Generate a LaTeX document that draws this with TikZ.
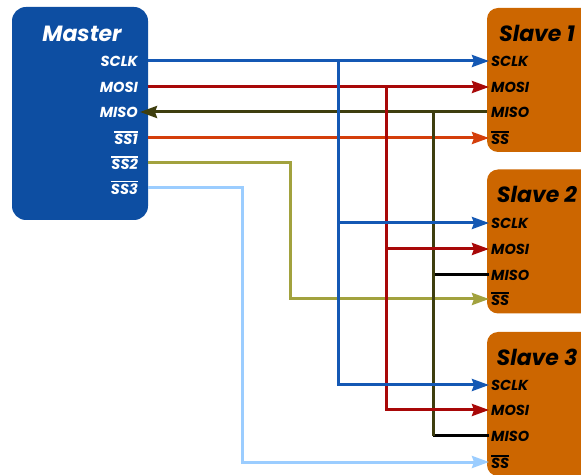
\documentclass[tikz,border=0pt]{standalone}
\usepackage{fontspec}
\setmainfont{Poppins}
\usetikzlibrary{arrows.meta}
\newcommand{\negbar}[1]{\leavevmode\vbox{\hrule height 1.3pt\kern1.6pt\hbox{#1}}}
\begin{document}
\begin{tikzpicture}[x=1pt,y=1pt,
  every node/.style={font=\bfseries\itshape},
  masterbox/.style={fill=masterColor,rounded corners=14pt,minimum width=136pt,minimum height=213pt,inner sep=0pt},
  slavebox/.style={fill=slaveColor,rounded corners=11pt,minimum width=110pt,minimum height=144pt,inner sep=0pt},
  title/.style={font=\fontsize{22}{26}\selectfont\bfseries\itshape},
  mpin/.style={text=white,anchor=east,inner sep=2pt,font=\fontsize{14.5}{17}\selectfont\bfseries\itshape},
  spin/.style={text=black,anchor=west,inner sep=2pt,font=\fontsize{14.5}{17}\selectfont\bfseries\itshape},
  wire/.style={line width=3pt},
  tip/.style={-{Stealth[length=17pt,width=12pt,inset=2pt]}}]
\definecolor{masterColor}{RGB}{13,78,162}
\definecolor{slaveColor}{RGB}{204,102,0}
\definecolor{sclkColor}{RGB}{20,88,180}
\definecolor{mosiColor}{RGB}{168,8,8}
\definecolor{misoColor}{RGB}{62,62,14}
\definecolor{ssaColor}{RGB}{212,62,10}
\definecolor{ssbColor}{RGB}{162,162,62}
\definecolor{sscColor}{RGB}{155,205,255}
\useasboundingbox (0,0) rectangle (581,474);
\clip (0,0) rectangle (581,474);

% boxes
\node[masterbox] (master) at ( 80.00,360.50) {};
\node[slavebox] (slave1) at (542.00,394.00) {};
\node[slavebox] (slave2) at (542.00,232.50) {};
\node[slavebox] (slave3) at (542.00, 70.00) {};

\node[title,text=white] (mtitle) at ( 82.00,440.00) {Master};
\node[title,text=black] (s1title) at (537.00,441.00) {Slave 1};
\node[title,text=black] (s2title) at (537.00,280.00) {Slave 2};
\node[title,text=black] (s3title) at (537.00,117.00) {Slave 3};

% master pins
\node[mpin] (m-sclk) at (140.00,413.00) {SCLK};
\node[mpin] (m-mosi) at (140.00,387.00) {MOSI};
\node[mpin] (m-miso) at (140.00,362.00) {MISO};
\node[mpin] (m-ssa) at (140.00,336.00) {\negbar{SS1}};
\node[mpin] (m-ssb) at (140.00,311.00) {\negbar{SS2}};
\node[mpin] (m-ssc) at (140.00,286.00) {\negbar{SS3}};

% slave pins
\node[spin] (s1-sclk) at (489.00,413.00) {SCLK};
\node[spin] (s1-mosi) at (489.00,387.00) {MOSI};
\node[spin] (s1-miso) at (489.00,362.00) {MISO};
\node[spin] (s1-ss) at (489.00,336.00) {\negbar{SS}};

\node[spin] (s2-sclk) at (489.00,251.00) {SCLK};
\node[spin] (s2-mosi) at (489.00,225.00) {MOSI};
\node[spin] (s2-miso) at (489.00,199.00) {MISO};
\node[spin] (s2-ss) at (489.00,175.00) {\negbar{SS}};

\node[spin] (s3-sclk) at (489.00, 89.00) {SCLK};
\node[spin] (s3-mosi) at (489.00, 64.00) {MOSI};
\node[spin] (s3-miso) at (489.00, 38.00) {MISO};
\node[spin] (s3-ss) at (489.00, 12.00) {\negbar{SS}};

% bus taps
\coordinate (j-sclk) at (338.00,413.00);
\coordinate (j-mosi) at (386.00,387.00);
\coordinate (j-miso) at (433.00,362.00);
\coordinate (x-ssb) at (290.00,0.00);
\coordinate (x-ssc) at (242.00,0.00);

% select lines
\draw[wire,tip,draw=sscColor] (master.east |- m-ssc) -| (x-ssc |- s3-ss) -- (s3-ss.west);
\draw[wire,tip,draw=ssbColor] (master.east |- m-ssb) -| (x-ssb |- s2-ss) -- (s2-ss.west);
\draw[wire,tip,draw=ssaColor] (master.east |- m-ssa) -- (s1-ss.west);

% MISO
\draw[wire,draw=black] (j-miso |- s2-miso) -- (s2-miso.west);
\draw[wire,draw=black] (j-miso |- s3-miso) -- (s3-miso.west);
\draw[wire,draw=misoColor] (j-miso) -- (j-miso |- s3-miso);
\draw[wire,tip,draw=misoColor] (slave1.west |- s1-miso) -- (m-miso.east);

% MOSI
\draw[wire,tip,draw=mosiColor] (j-mosi) |- (s2-mosi.west);
\draw[wire,tip,draw=mosiColor] (j-mosi) |- (s3-mosi.west);
\draw[wire,tip,draw=mosiColor] (master.east |- m-mosi) -- (s1-mosi.west);

% SCLK
\draw[wire,tip,draw=sclkColor] (j-sclk) |- (s2-sclk.west);
\draw[wire,tip,draw=sclkColor] (j-sclk) |- (s3-sclk.west);
\draw[wire,tip,draw=sclkColor] (master.east |- m-sclk) -- (s1-sclk.west);
\end{tikzpicture}
\end{document}
